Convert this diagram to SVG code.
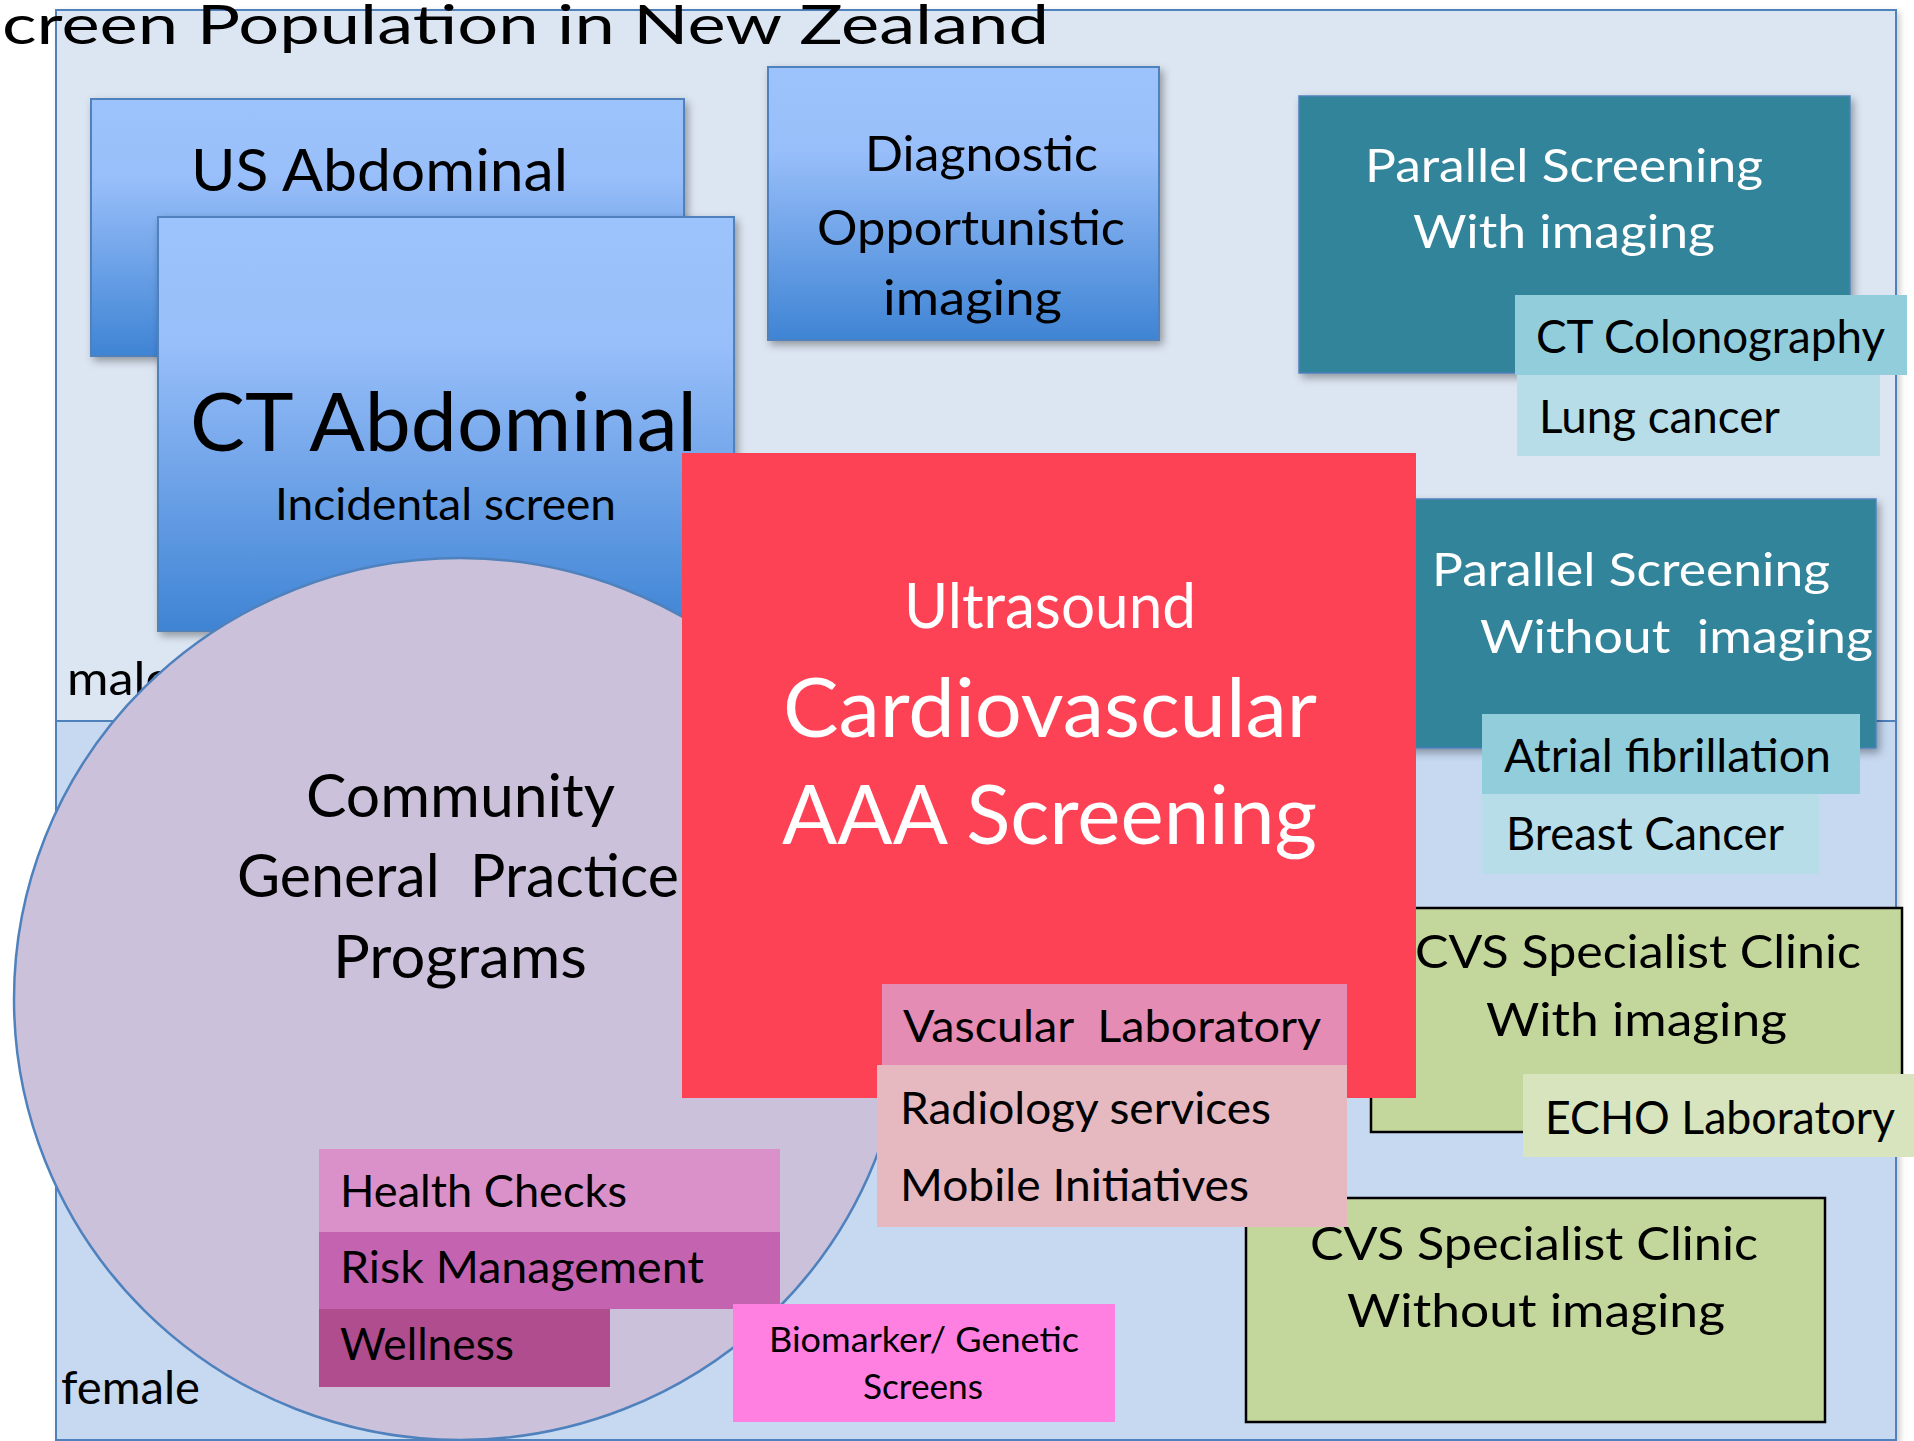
<svg xmlns="http://www.w3.org/2000/svg" width="1914" height="1441" viewBox="0 0 1914 1441">
<defs>
  <linearGradient id="blueGrad" x1="0" y1="0" x2="0" y2="1">
    <stop offset="0" stop-color="#9dc3fc"/>
    <stop offset="0.3" stop-color="#99bffa"/>
    <stop offset="1" stop-color="#3f84d4"/>
  </linearGradient>
  <filter id="shadow" x="-10%" y="-10%" width="130%" height="130%">
    <feDropShadow dx="3" dy="4" stdDeviation="4" flood-color="#000" flood-opacity="0.35"/>
  </filter>
  <filter id="softShadow" x="-5%" y="-5%" width="110%" height="110%">
    <feDropShadow dx="3" dy="3" stdDeviation="3" flood-color="#000" flood-opacity="0.2"/>
  </filter>
</defs>
<style>
  text { font-family: Lato, "Open Sans", "DejaVu Sans", sans-serif; fill: #000; }
  .w { fill: #fff; }
  .pre { white-space: pre; }
  .pop { stroke: #4f81bd; stroke-width: 2; }
  .blue { fill: url(#blueGrad); stroke: #4f81bd; stroke-width: 2; filter: url(#shadow); }
  .teal { fill: #31849b; stroke: #4f81bd; stroke-width: 1.5; filter: url(#shadow); }
  .green { fill: #c3d69b; stroke: #000; stroke-width: 2.5; }
  .f46 { font-size: 46px; }
  .f45 { font-size: 45px; }
</style>
<rect width="1914" height="1441" fill="#fff"/>

<g id="male-population">
  <rect class="pop" x="56" y="10" width="1840" height="1430" fill="#dce6f2" filter="url(#softShadow)"/>
  <text x="67" y="695" font-size="46" textLength="105" lengthAdjust="spacingAndGlyphs">male</text>
</g>
<g id="female-population">
  <rect class="pop" x="56" y="721" width="1840" height="719" fill="#c6d9f1"/>
  <text x="61" y="1404" font-size="46" textLength="139" lengthAdjust="spacingAndGlyphs">female</text>
</g>

<g id="us-abdominal">
  <rect class="blue" x="91" y="99" width="593" height="257"/>
  <text x="191" y="191" font-size="58" textLength="377" lengthAdjust="spacingAndGlyphs">US Abdominal</text>
</g>

<g id="ct-abdominal">
  <rect class="blue" x="158" y="217" width="576" height="414"/>
  <text x="190" y="451" font-size="82" textLength="507" lengthAdjust="spacingAndGlyphs">CT Abdominal</text>
  <text x="275" y="520" font-size="45" textLength="341" lengthAdjust="spacingAndGlyphs">Incidental screen</text>
</g>

<g id="diagnostic-opportunistic">
  <rect class="blue" x="768" y="67" width="391" height="273"/>
  <text x="865" y="171" font-size="48" textLength="233" lengthAdjust="spacingAndGlyphs">Diagnostic</text>
  <text x="817" y="245" font-size="48" textLength="308" lengthAdjust="spacingAndGlyphs">Opportunistic</text>
  <text x="883" y="315" font-size="48" textLength="179" lengthAdjust="spacingAndGlyphs">imaging</text>
</g>

<g id="parallel-with-imaging">
  <rect class="teal" x="1299" y="96" width="551" height="277"/>
  <text class="w f46" x="1365" y="182" textLength="398" lengthAdjust="spacingAndGlyphs">Parallel Screening</text>
  <text class="w f46" x="1413" y="248" textLength="302" lengthAdjust="spacingAndGlyphs">With imaging</text>
  <rect x="1515" y="295" width="392" height="80" fill="#92cddc"/>
  <text class="f46" x="1536" y="353" textLength="349" lengthAdjust="spacingAndGlyphs">CT Colonography</text>
  <rect x="1517" y="375" width="363" height="81" fill="#b7dde8"/>
  <text class="f46" x="1539" y="433" textLength="241" lengthAdjust="spacingAndGlyphs">Lung cancer</text>
</g>

<g id="parallel-without-imaging">
  <rect class="teal" x="1400" y="499" width="476" height="249"/>
  <text class="w f46" x="1432" y="586" textLength="398" lengthAdjust="spacingAndGlyphs">Parallel Screening</text>
  <text class="w f46 pre" x="1480" y="653" textLength="393" lengthAdjust="spacingAndGlyphs">Without  imaging</text>
  <rect x="1482" y="714" width="378" height="80" fill="#92cddc"/>
  <text class="f46" x="1504" y="772" textLength="327" lengthAdjust="spacingAndGlyphs">Atrial fibrillation</text>
  <rect x="1482" y="794" width="337" height="80" fill="#b7dde8"/>
  <text class="f46" x="1506" y="850" textLength="278" lengthAdjust="spacingAndGlyphs">Breast Cancer</text>
</g>

<g id="cvs-with-imaging">
  <rect class="green" x="1371" y="908" width="531" height="224"/>
  <text class="f46" x="1415" y="968" textLength="446" lengthAdjust="spacingAndGlyphs">CVS Specialist Clinic</text>
  <text class="f46" x="1486" y="1036" textLength="301" lengthAdjust="spacingAndGlyphs">With imaging</text>
  <rect x="1523" y="1074" width="391" height="83" fill="#d7e4bd"/>
  <text class="f46" x="1545" y="1134" textLength="350" lengthAdjust="spacingAndGlyphs">ECHO Laboratory</text>
</g>

<g id="cvs-without-imaging">
  <rect class="green" x="1246" y="1198" width="579" height="224"/>
  <text class="f46" x="1310" y="1260" textLength="448" lengthAdjust="spacingAndGlyphs">CVS Specialist Clinic</text>
  <text class="f46" x="1347" y="1327" textLength="378" lengthAdjust="spacingAndGlyphs">Without imaging</text>
</g>

<g id="community-gp">
  <ellipse cx="460" cy="999" rx="446" ry="441" fill="#ccc1da" stroke="#4f81bd" stroke-width="2.5"/>
  <text x="306" y="817" font-size="60" textLength="309" lengthAdjust="spacingAndGlyphs">Community</text>
  <text class="pre" x="237" y="897" font-size="60" textLength="442" lengthAdjust="spacingAndGlyphs">General  Practice</text>
  <text x="333" y="978" font-size="60" textLength="254" lengthAdjust="spacingAndGlyphs">Programs</text>
  <rect x="319" y="1149" width="461" height="83" fill="#da91c9"/>
  <text x="340" y="1207" font-size="44" textLength="287" lengthAdjust="spacingAndGlyphs">Health Checks</text>
  <rect x="319" y="1232" width="461" height="77" fill="#c464b0"/>
  <text x="340" y="1283" font-size="44" textLength="364" lengthAdjust="spacingAndGlyphs">Risk Management</text>
  <rect x="319" y="1309" width="291" height="78" fill="#b04d8e"/>
  <text x="340" y="1360" font-size="44" textLength="174" lengthAdjust="spacingAndGlyphs">Wellness</text>
</g>

<g id="aaa-screening">
  <rect x="682" y="453" width="734" height="645" fill="#fe4255"/>
  <text class="w" x="904" y="628" font-size="61" textLength="292" lengthAdjust="spacingAndGlyphs">Ultrasound</text>
  <text class="w" x="783" y="737" font-size="81" textLength="534" lengthAdjust="spacingAndGlyphs">Cardiovascular</text>
  <text class="w" x="782" y="844" font-size="81" textLength="535" lengthAdjust="spacingAndGlyphs">AAA Screening</text>
</g>

<g id="vascular-services">
  <rect x="882" y="984" width="465" height="81" fill="#e48cb3"/>
  <text class="f45 pre" x="903" y="1042" textLength="418" lengthAdjust="spacingAndGlyphs">Vascular  Laboratory</text>
  <rect x="877" y="1065" width="470" height="162" fill="#e6b8c0"/>
  <text class="f45" x="900" y="1124" textLength="371" lengthAdjust="spacingAndGlyphs">Radiology services</text>
  <text class="f45" x="900" y="1201" textLength="349" lengthAdjust="spacingAndGlyphs">Mobile Initiatives</text>
</g>

<g id="biomarker-genetic">
  <rect x="733" y="1304" width="382" height="118" fill="#ff80e1"/>
  <text x="769" y="1352" font-size="34" textLength="310" lengthAdjust="spacingAndGlyphs">Biomarker/ Genetic</text>
  <text x="863" y="1399" font-size="34" textLength="120" lengthAdjust="spacingAndGlyphs">Screens</text>
</g>

<g id="connectors"></g>

<g id="title">
  <text x="2" y="44" font-size="54" textLength="1047" lengthAdjust="spacingAndGlyphs">creen Population in New Zealand</text>
</g>
</svg>
